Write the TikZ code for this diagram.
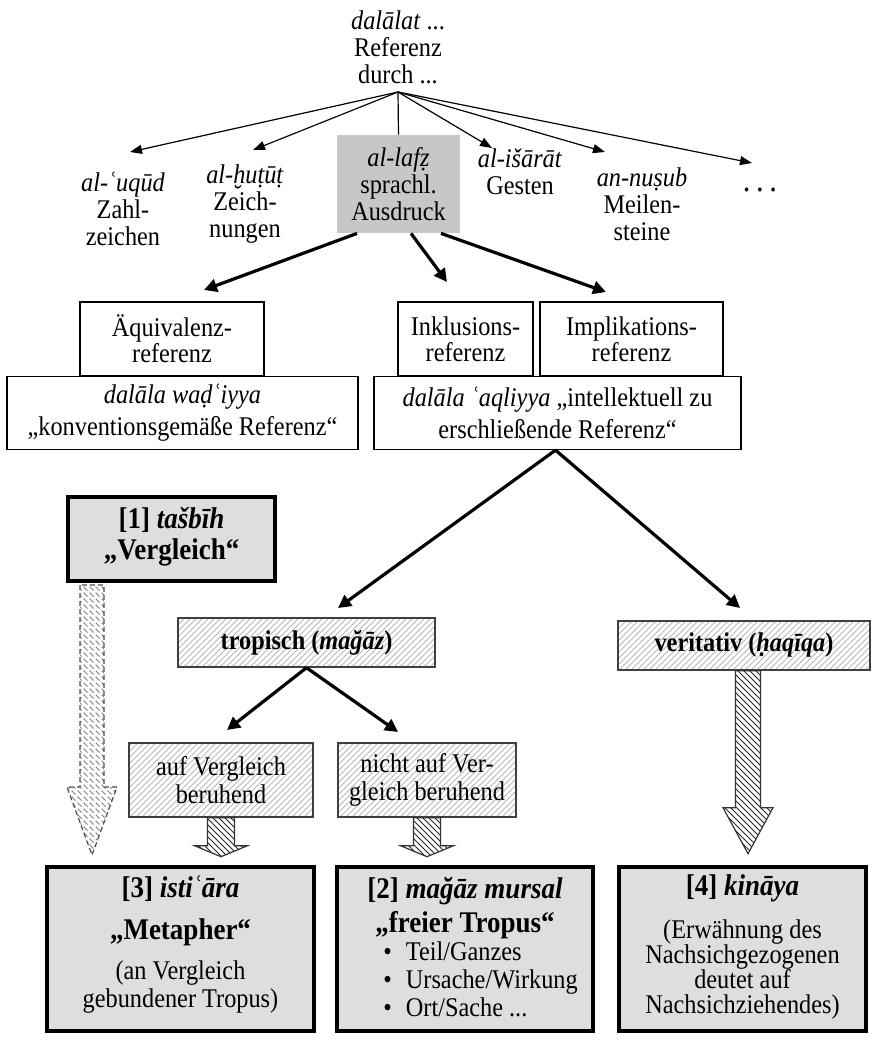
\documentclass[tikz,border=0pt]{standalone}
\usepackage{fontspec}
\setmainfont{Liberation Serif}[FakeStretch=0.9]
\usetikzlibrary{arrows.meta,patterns,calc}
\newcommand{\blkarrow}[6]{%
  \draw[#1] ($(#2)+(-#3,0)$) -- ++(0,#4) -- ++({#3-#5},0) -- ++(#5,#6) -- ++(#5,-#6) -- ++({#3-#5},0) -- ++(0,-#4) -- cycle;}
\begin{document}
\begin{tikzpicture}[x=0.5pt,y=-0.5pt,
  lbl/.style={align=center, font=\fontsize{13.5}{13.5}\selectfont, inner sep=0pt},
  boldlbl/.style={align=center, font=\fontsize{15}{15.5}\selectfont\bfseries, inner sep=0pt},
  plainbox/.style={draw, line width=0.65pt, align=center, font=\fontsize{13.5}{13}\selectfont, inner sep=0pt},
  lafzbox/.style={fill=black!22, align=center, font=\fontsize{13.5}{13.5}\selectfont, inner sep=0pt, minimum width=61.5pt, minimum height=49pt},
  hatchbox/.style={draw=black!75, line width=0.7pt, pattern=north east lines, pattern color=black!28, align=center, inner sep=0pt},
  keybox/.style={draw, line width=2pt, fill=black!13, inner sep=0pt},
  thinarr/.style={line width=0.6pt, -{Triangle[length=6pt,width=4.5pt]}},
  thickarr/.style={line width=1.6pt, -{Triangle[length=6.5pt,width=6.5pt]}},
  blockarr/.style={draw=black!80, line width=0.6pt, pattern=north west lines, pattern color=black!85},
  dasharr/.style={draw=black!70, line width=0.6pt, dash pattern=on 2.5pt off 1.5pt, pattern=north west lines, pattern color=black!50},
]
\useasboundingbox (0,0) rectangle (876,1043);

% ---- top level
\node[lbl] (top) at (398,47) {\textit{dalālat} ...\\Referenz\\durch ...};
\coordinate (c) at (398,92);

\node[lbl] (uqud) at (123,209) {\textit{al-ʿuqūd}\\Zahl-\\zeichen};
\node[lbl] (hutut) at (245,204) {\textit{al-ḫuṭūṭ}\\Zeich-\\nungen};
\node[lafzbox] (lafz) at (398.5,184) {\textit{al-lafẓ}\\sprachl.\\Ausdruck};
\node[lbl] (isarat) at (520,172) {\textit{al-išārāt}\\Gesten};
\node[lbl] (nusub) at (642,204) {\textit{an-nuṣub}\\Meilen-\\steine};
\node[lbl, font=\fontsize{17}{17}\selectfont] (dots) at (760,190) {.\hspace{2.8pt}.\hspace{2.8pt}.};

\coordinate (a1) at (130,152);
\coordinate (a2) at (253,150);
\coordinate (a4) at (492,148);
\coordinate (a5) at (605,152);
\coordinate (a6) at (752,163);
\draw[thinarr] (c) -- (a1);
\draw[thinarr] (c) -- (a2);
\draw[line width=0.6pt] (c) -- (lafz.north);
\draw[thinarr] (c) -- (a4);
\draw[thinarr] (c) -- (a5);
\draw[thinarr] (c) -- (a6);

% ---- reference types
\node[plainbox, minimum width=92pt, minimum height=37pt] (aeq) at (172,339) {Äquivalenz-\\referenz};
\node[plainbox, minimum width=67.5pt, minimum height=37pt] (inkl) at (465.5,339) {Inklusions-\\referenz};
\node[plainbox, minimum width=91.5pt, minimum height=37pt] (impl) at (631.5,339) {Implikations-\\referenz};
\node[plainbox, minimum width=175.5pt, minimum height=36.5pt, font=\fontsize{13.5}{16}\selectfont] (wad) at (182.5,413) {\textit{dalāla waḍʿiyya}\\„konventionsgemäße Referenz“};
\node[plainbox, minimum width=183.5pt, minimum height=36.5pt, font=\fontsize{13.5}{16}\selectfont] (aql) at (557.5,413) {\textit{dalāla ʿaqliyya} „intellektuell zu\\erschließende Referenz“};

\coordinate (b1) at (204,290);
\coordinate (b2) at (447,282);
\coordinate (b3) at (606,292);
\draw[thickarr] ($(lafz.south)+(-41.5,0)$) -- (b1);
\draw[thickarr] ($(lafz.south)+(12.5,0)$) -- (b2);
\draw[thickarr] ($(lafz.south)+(42.5,0)$) -- (b3);

% ---- tashbih
\node[keybox, minimum width=103.5pt, minimum height=42pt] (tas) at (171.5,539) {};
\node[boldlbl] (tast) at (171.5,537) {[1] \textit{tašbīh}\\„Vergleich“};

% ---- tropisch / veritativ
\node[hatchbox, minimum width=128.5pt, minimum height=24.5pt, font=\fontsize{13.5}{13}\selectfont\bfseries] (tro) at (306.5,642.5) {tropisch (\textit{mağāz})};
\node[hatchbox, minimum width=126pt, minimum height=24.5pt, font=\fontsize{13.5}{13}\selectfont\bfseries] (ver) at (744,645.5) {veritativ (\textit{ḥaqīqa})};

\coordinate (d1) at (338,608);
\coordinate (d2) at (740,608);
\draw[thickarr] ($(aql.south)+(-2,0)$) -- (d1);
\draw[thickarr] ($(aql.south)+(-2,0)$) -- (d2);

\node[hatchbox, minimum width=92pt, minimum height=37pt, font=\fontsize{13.5}{14}\selectfont] (auf) at (221,780) {auf Vergleich\\beruhend};
\node[hatchbox, minimum width=89pt, minimum height=37pt, font=\fontsize{13.5}{14}\selectfont] (nicht) at (427,780) {nicht auf Ver-\\gleich beruhend};

\coordinate (e1) at (227,730);
\coordinate (e2) at (398,732);
\draw[thickarr] (tro.south) -- (e1);
\draw[thickarr] (tro.south) -- (e2);

% ---- block arrows
\blkarrow{blockarr}{auf.south}{13.5}{28}{26.5}{11}
\blkarrow{blockarr}{nicht.south}{13.5}{28}{26.5}{11}
\coordinate (vs) at ($(ver.south)+(4,0)$);
\blkarrow{blockarr}{vs}{12.5}{137}{25}{46}
\coordinate (ds) at ($(tas.south)+(-79.5,2)$);
\blkarrow{dasharr}{ds}{12}{202}{25}{68}

% ---- bottom boxes
\node[keybox, minimum width=133.5pt, minimum height=82pt] (ist) at (180.5,949) {};
\node[keybox, minimum width=128pt, minimum height=82pt] (mm) at (465,949) {};
\node[keybox, minimum width=123.5pt, minimum height=82pt] (kin) at (742.5,949) {};

\node[lbl, font=\fontsize{13.5}{14}\selectfont] (istt) at (180.5,945)
  {{\fontsize{15}{14}\selectfont\bfseries [3] \textit{istiʿāra}}\\[7pt]{\fontsize{15}{14}\selectfont\bfseries „Metapher“}\\[6pt](an Vergleich\\gebundener Tropus)};
\node[lbl, font=\fontsize{15}{14}\selectfont\bfseries] (mmt) at (465,908)
  {[2] \textit{mağāz mursal}\\[3pt]„freier Tropus“};
\node[lbl, align=left, anchor=west, font=\fontsize{13.5}{14}\selectfont] (mml) at (383,979)
  {\textbullet\hspace{7pt}Teil/Ganzes\\\textbullet\hspace{7pt}Ursache/Wirkung\\\textbullet\hspace{7pt}Ort/Sache ...};
\node[lbl, font=\fontsize{13.5}{12.5}\selectfont] (kint) at (742.5,947)
  {{\fontsize{15}{12.5}\selectfont\bfseries [4] \textit{kināya}}\\[8pt](Erwähnung des\\Nachsichgezogenen\\deutet auf\\Nachsichziehendes)};
\end{tikzpicture}
\end{document}
